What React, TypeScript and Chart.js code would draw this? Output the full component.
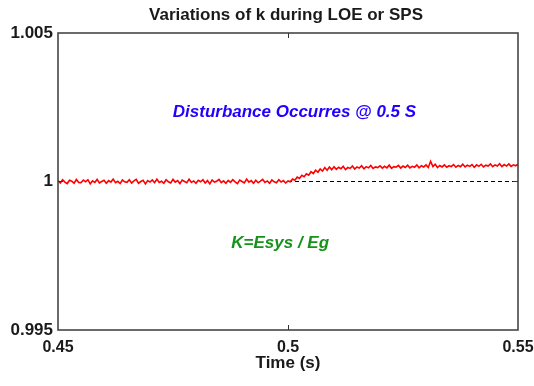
import React, { useEffect, useRef } from "react";
import { Chart, registerables } from "chart.js";

Chart.register(...registerables);

const FONT_FAMILY = "'Liberation Sans', Arial, Helvetica, sans-serif";

const TITLE = "Variations of k during LOE or SPS";
const X_LABEL = "Time (s)";

const xTicks = [0.45, 0.5, 0.55];
const xTickLabels = ["0.45", "0.5", "0.55"];
const yTicks = [0.995, 1, 1.005];
const yTickLabels = ["0.995", "1", "1.005"];

// Sampling grid of the recorded signal (seconds)
const SAMPLE_START = 0.45;
const SAMPLE_STEP = 0.0005;

// Deviation of k from 1, in units of 1e-5, before the disturbance (0.45 s .. 0.4995 s)
const kBefore = [
  3, -5, 6, -2, -7, 4, 1, -6, 7, -3,
  -4, 5, -1, 6, -8, 2, -3, 7, -5, 0,
  4, -6, 3, -2, 8, -4, 1, -7, 5, -1,
  -3, 6, -5, 2, 7, -6, 0, 4, -8, 3,
  -2, 5, -4, 8, -3, 1, -6, 6, -1, -5,
  7, -2, 3, -7, 5, 0, -4, 8, -3, 2,
  -6, 4, -1, 6, -5, 3, -8, 5, -2, 1,
  7, -4, 2, -6, 4, -3, 6, -1, -7, 5,
  0, -5, 8, -2, 3, -6, 4, -4, 1, 7,
  -3, 2, -6, 5, -1, -4, 6, -2, 3, -5,
];

// Deviation of k from 1, in units of 1e-5, from the disturbance onward (0.5 s .. 0.55 s)
const kAfter = [
  2, -1, 8, 4, 15, 10, 21, 16, 26, 21,
  33, 27, 38, 31, 42, 35, 47, 38, 49, 40,
  50, 41, 48, 43, 51, 40, 47, 44, 52, 42,
  49, 45, 53, 43, 50, 46, 54, 44, 49, 47,
  53, 45, 51, 46, 55, 44, 50, 48, 54, 45,
  52, 47, 55, 46, 51, 48, 56, 46, 53, 49,
  56, 47, 68, 50, 58, 47, 54, 49, 56, 48,
  53, 50, 57, 48, 54, 50, 58, 49, 55, 51,
  57, 48, 56, 51, 58, 49, 55, 52, 59, 50,
  56, 52, 60, 50, 57, 52, 59, 51, 56, 53,
  58,
];

// Pre-disturbance reference level, drawn dashed after the event
const referenceLevel = 1;
const referenceSpan = [0.5, 0.55];

const notes = [
  { text: "Disturbance Occurres @ 0.5 S", x: 0.5014, y: 1.00217, color: "#2200ff" },
  { text: "K=Esys / Eg", x: 0.4983, y: 0.99776, color: "#16921a" },
];

const kSeries = [...kBefore, ...kAfter].map((d, i) => ({
  x: +(SAMPLE_START + i * SAMPLE_STEP).toFixed(4),
  y: 1 + d * 1e-5,
}));

const referenceSeries = referenceSpan.map((t) => ({ x: t, y: referenceLevel }));

const framePlugin = {
  id: "frame",
  beforeDraw(chart: any) {
    const { ctx, width, height } = chart;
    ctx.save();
    ctx.fillStyle = "#ffffff";
    ctx.fillRect(0, 0, width, height);
    ctx.restore();
  },
  afterDraw(chart: any) {
    const { ctx, chartArea: a, scales } = chart;
    const xs = scales.x;
    const ys = scales.y;
    ctx.save();

    // inward tick marks on all four sides
    ctx.strokeStyle = "#333333";
    ctx.lineWidth = 1;
    ctx.beginPath();
    xTicks.slice(1, -1).forEach((v) => {
      const px = Math.round(xs.getPixelForValue(v)) + 0.5;
      ctx.moveTo(px, a.top);
      ctx.lineTo(px, a.top + 5);
      ctx.moveTo(px, a.bottom);
      ctx.lineTo(px, a.bottom - 5);
    });
    yTicks.slice(1, -1).forEach((v) => {
      const py = Math.round(ys.getPixelForValue(v)) + 0.5;
      ctx.moveTo(a.left, py);
      ctx.lineTo(a.left + 5, py);
      ctx.moveTo(a.right, py);
      ctx.lineTo(a.right - 5, py);
    });
    ctx.stroke();

    // axes box
    ctx.strokeStyle = "#3a3a3a";
    ctx.lineWidth = 1.5;
    ctx.strokeRect(a.left, a.top, a.right - a.left, a.bottom - a.top);

    // title
    ctx.fillStyle = "#1a1a1a";
    ctx.font = `bold 17px ${FONT_FAMILY}`;
    ctx.textAlign = "center";
    ctx.textBaseline = "alphabetic";
    ctx.fillText(TITLE, (a.left + a.right) / 2 - 2, 20);

    // annotations
    ctx.font = `italic bold 17px ${FONT_FAMILY}`;
    notes.forEach((n) => {
      ctx.fillStyle = n.color;
      ctx.fillText(n.text, xs.getPixelForValue(n.x), ys.getPixelForValue(n.y));
    });

    ctx.restore();
  },
};

export default function App() {
  const canvasRef = useRef<HTMLCanvasElement | null>(null);

  useEffect(() => {
    if (!canvasRef.current) return;
    Chart.defaults.font.family = FONT_FAMILY;

    const chart = new Chart(canvasRef.current, {
      type: "line",
      data: {
        datasets: [
          {
            label: "k",
            data: kSeries,
            borderColor: "#ff0000",
            borderWidth: 1.6,
            pointRadius: 0,
            tension: 0,
            order: 0,
          },
          {
            label: "reference",
            data: referenceSeries,
            borderColor: "#000000",
            borderWidth: 1,
            borderDash: [4, 3],
            pointRadius: 0,
            order: 1,
          },
        ],
      },
      options: {
        animation: false,
        responsive: true,
        maintainAspectRatio: false,
        layout: { padding: { top: 33, right: 16, left: 0, bottom: 0 } },
        plugins: {
          legend: { display: false },
          tooltip: { enabled: false },
          title: { display: false },
        },
        scales: {
          x: {
            type: "linear",
            min: 0.45,
            max: 0.55,
            grid: { display: false, drawTicks: false },
            border: { display: false },
            afterBuildTicks: (s: any) => {
              s.ticks = xTicks.map((v) => ({ value: v }));
            },
            afterFit: (s: any) => {
              s.height = 56;
              s.paddingLeft = 0;
              s.paddingRight = 0;
            },
            ticks: {
              autoSkip: false,
              maxRotation: 0,
              padding: 8,
              color: "#1a1a1a",
              font: { size: 16, weight: "bold" },
              callback: (v: any) => {
                const i = xTicks.findIndex((t) => Math.abs(t - Number(v)) < 1e-9);
                return i >= 0 ? xTickLabels[i] : "";
              },
            },
            title: {
              display: true,
              text: X_LABEL,
              color: "#1a1a1a",
              font: { size: 17, weight: "bold" },
              padding: { top: 0, bottom: 12 },
            },
          },
          y: {
            type: "linear",
            min: 0.995,
            max: 1.005,
            grid: { display: false, drawTicks: false },
            border: { display: false },
            afterBuildTicks: (s: any) => {
              s.ticks = yTicks.map((v) => ({ value: v }));
            },
            afterFit: (s: any) => {
              s.width = 58;
              s.paddingTop = 0;
              s.paddingBottom = 0;
            },
            ticks: {
              autoSkip: false,
              padding: 5,
              color: "#1a1a1a",
              font: { size: 17, weight: "bold" },
              callback: (v: any) => {
                const i = yTicks.findIndex((t) => Math.abs(t - Number(v)) < 1e-9);
                return i >= 0 ? yTickLabels[i] : "";
              },
            },
          },
        },
      },
      plugins: [framePlugin],
    });

    return () => chart.destroy();
  }, []);

  return (
    <div
      style={{
        position: "fixed",
        left: 0,
        top: 0,
        width: 534,
        height: 386,
        background: "#ffffff",
      }}
    >
      <canvas ref={canvasRef} />
    </div>
  );
}
